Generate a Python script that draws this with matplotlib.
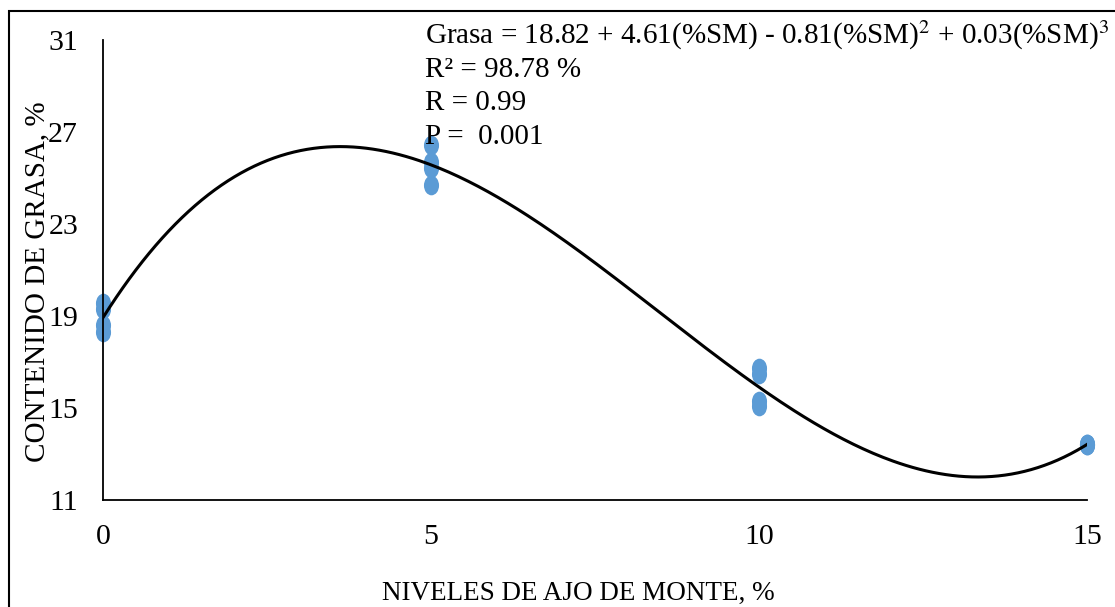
import matplotlib

matplotlib.use("Agg")
import matplotlib.pyplot as plt
import numpy as np
from matplotlib.path import Path
from matplotlib.patches import Rectangle
from matplotlib.transforms import Affine2D

# niveles de ajo de monte (%) y contenido de grasa (%)
niveles = [0, 0, 0, 0, 5, 5, 5, 5, 10, 10, 10, 10, 15, 15, 15, 15]
grasa = [19.55, 19.3, 18.6, 18.3,
         26.45, 25.7, 25.45, 24.7,
         16.75, 16.5, 15.3, 15.1,
         13.45, 13.4, 13.4, 13.45]

x_ticks = [0, 5, 10, 15]
y_ticks = [11, 15, 19, 23, 27, 31]

anotacion = [
    "Grasa = 18.82 + 4.61(%SM) - 0.81(%SM)$^2$ + 0.03(%SM)$^3$",
    "R² = 98.78 %",
    "R = 0.99",
    "P =  0.001",
]

plt.rcParams["font.family"] = ["Liberation Serif", "DejaVu Serif"]
plt.rcParams["mathtext.fontset"] = "stix"

fig = plt.figure(figsize=(11.15, 6.07), dpi=100)
ax = fig.add_axes([0.0924, 0.176, 0.8826, 0.758])

# punto algo alargado como en el original
oval = Path.unit_circle().transformed(Affine2D().scale(1.0, 1.3))
ax.scatter(niveles, grasa, marker=oval, s=200, color="#5B9BD5", zorder=2,
           linewidths=0, clip_on=False)

coef = np.polyfit(niveles, grasa, 3)
xs = np.linspace(0, 15, 300)
ax.plot(xs, np.polyval(coef, xs), color="black", lw=2.2, zorder=3)

ax.set_xlim(0, 15)
ax.set_ylim(11, 31)
ax.set_xticks(x_ticks)
ax.set_yticks(y_ticks)
ax.tick_params(length=0, labelsize=21.5)
ax.tick_params(axis="x", pad=17)
ax.tick_params(axis="y", pad=18)
for s in ["top", "right"]:
    ax.spines[s].set_visible(False)
for s in ["left", "bottom"]:
    ax.spines[s].set_linewidth(1.3)

ax.set_xlabel("NIVELES DE AJO DE MONTE, %", fontsize=19.5)
ax.xaxis.set_label_coords(0.483, -0.176)
ax.set_ylabel("CONTENIDO DE GRASA, %", fontsize=21)
ax.yaxis.set_label_coords(-0.054, 0.474)

for i, linea in enumerate(anotacion):
    fig.text(0.381, 0.928 - i * 0.055, linea, fontsize=21, ha="left",
             va="baseline")

fig.add_artist(Rectangle((0.008, -0.05), 1.2, 1.032, transform=fig.transFigure,
                         fill=False, lw=1.5, edgecolor="black"))

fig.savefig("out.png", dpi=100)
